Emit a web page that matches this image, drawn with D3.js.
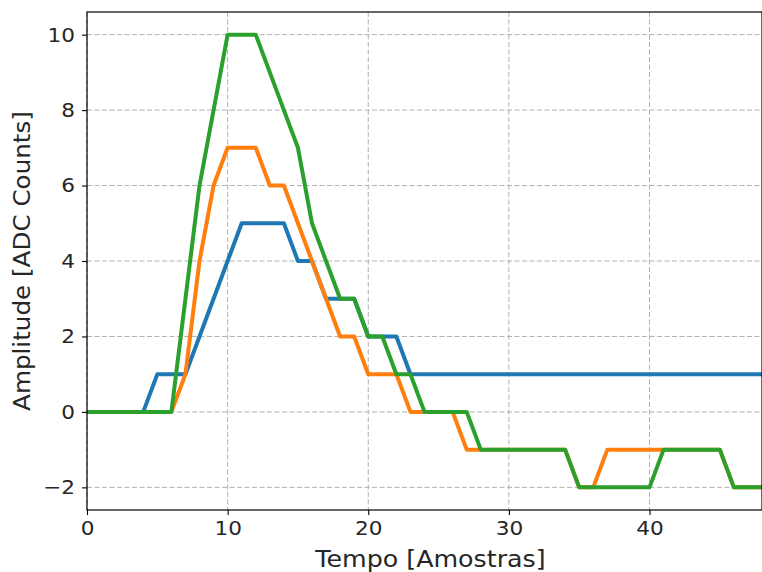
<!DOCTYPE html>
<html><head><meta charset="utf-8">
<script src="https://cdn.jsdelivr.net/npm/d3@7"></script>
<style>body{margin:0;background:#fff}svg{display:block}text{font-family:"DejaVu Sans",sans-serif;fill:#262626}</style>
</head><body><svg id="c" width="762" height="572"></svg>
<script>
const samples = d3.range(0, 49);
const blue   = [0,0,0,0,0,1,1,1,2,3,4,5,5,5,5,4,4,3,3,3,2,2,2,1,1,1,1,1,1,1,1,1,1,1,1,1,1,1,1,1,1,1,1,1,1,1,1,1,1];
const orange = [0,0,0,0,0,0,0,1,4,6,7,7,7,6,6,5,4,3,2,2,1,1,1,0,0,0,0,-1,-1,-1,-1,-1,-1,-1,-1,-2,-2,-1,-1,-1,-1,-1,-1,-1,-1,-1,-2,-2,-2];
const green  = [0,0,0,0,0,0,0,3,6,8,10,10,10,9,8,7,5,4,3,3,2,2,1,1,0,0,0,0,-1,-1,-1,-1,-1,-1,-1,-2,-2,-2,-2,-2,-2,-1,-1,-1,-1,-1,-2,-2,-2];
const seriesNames = ["blue","orange","green"];
const xTicks = [0,10,20,30,40];
const yTicks = [-2,0,2,4,6,8,10];
const xLabel = "Tempo [Amostras]";
const yLabel = "Amplitude [ADC Counts]";
const colors = ["#1f77b4","#ff7f0e","#2ca02c"];

const svg = d3.select("#c");
const m = {l:87, r:762, t:12, b:510};
const x = d3.scaleLinear().domain([0,48]).range([m.l, m.r]);
const y = d3.scaleLinear().domain([-2.6,10.6]).range([m.b, m.t]);

function stretch(sel, k){
  sel.each(function(){ const L = this.getComputedTextLength(); d3.select(this).attr("textLength", L*k).attr("lengthAdjust","spacingAndGlyphs"); });
}

// grid
const grid = svg.append("g").attr("stroke","#b0b0b0").attr("stroke-width",1).attr("stroke-dasharray","5,2.5");
grid.selectAll("line.gx").data(xTicks).join("line").attr("x1",d=>x(d)).attr("x2",d=>x(d)).attr("y1",m.t).attr("y2",m.b);
grid.selectAll("line.gy").data(yTicks).join("line").attr("y1",d=>y(d)).attr("y2",d=>y(d)).attr("x1",m.l).attr("x2",m.r);

svg.append("defs").append("clipPath").attr("id","clip").append("rect").attr("x",m.l).attr("y",m.t).attr("width",m.r-m.l).attr("height",m.b-m.t);

const data = [blue, orange, green];
const line = d3.line().x((d,i)=>x(samples[i])).y(d=>y(d));
svg.append("g").attr("clip-path","url(#clip)").selectAll("path").data(data).join("path")
  .attr("d", line).attr("fill","none").attr("stroke",(d,i)=>colors[i]).attr("stroke-width",4).attr("stroke-linejoin","round");

// axes
const xAxis = d3.axisBottom(x).tickValues(xTicks).tickSize(5).tickPadding(6).tickFormat(d3.format("d"));
const yAxis = d3.axisLeft(y).tickValues(yTicks).tickSize(5).tickPadding(7).tickFormat(d=> d<0 ? "\u2212"+Math.abs(d) : d);
const gx = svg.append("g").attr("transform",`translate(0,${m.b})`).call(xAxis);
const gy = svg.append("g").attr("transform",`translate(${m.l},0)`).call(yAxis);
[gx,gy].forEach(g=>{g.select(".domain").remove(); g.selectAll(".tick line").attr("stroke","#000").attr("stroke-width",1.1); g.selectAll("text").attr("font-size",20).attr("font-family","DejaVu Sans").attr("fill","#262626");});
stretch(gx.selectAll("text"), 1.08);
stretch(gy.selectAll("text"), 1.08);

// spines
svg.append("rect").attr("x",m.l).attr("y",m.t).attr("width",m.r-m.l).attr("height",m.b-m.t).attr("fill","none").attr("stroke","#000").attr("stroke-width",1.2);

const xl = svg.append("text").attr("x",(m.l+m.r)/2 + 6).attr("y",567).attr("text-anchor","middle").attr("font-size",23).text(xLabel);
const yl = svg.append("text").attr("transform",`translate(30,${(m.t+m.b)/2}) rotate(-90)`).attr("text-anchor","middle").attr("font-size",23).text(yLabel);
stretch(xl, 1.1);
stretch(yl, 1.07);
</script></body></html>
